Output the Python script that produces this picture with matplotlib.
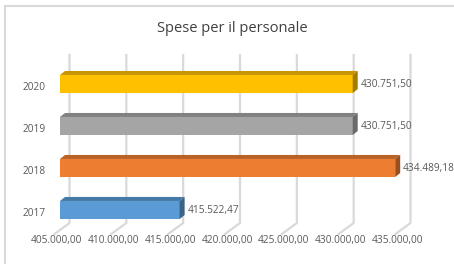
import matplotlib
matplotlib.use("Agg")
import matplotlib.pyplot as plt
from matplotlib.transforms import IdentityTransform
from matplotlib.patches import Polygon
from matplotlib.lines import Line2D
import colorsys
from matplotlib.colors import to_rgb

plt.rcParams['font.family'] = ['Open Sans', 'DejaVu Sans']

# ---- data ----
title = "Spese per il personale"
years = ["2017", "2018", "2019", "2020"]
values = [415522.47, 434489.18, 430751.50, 430751.50]
colors = ["#5B9BD5", "#ED7D31", "#A5A5A5", "#FFC000"]
ticks = [405000, 410000, 415000, 420000, 425000, 430000, 435000]
base = 405000

def it_fmt(v):
    s = f"{v:,.2f}"
    return s.replace(",", "X").replace(".", ",").replace("X", ".")

def shade(c, f):
    r, g, b = to_rgb(c)
    return (r * f, g * f, b * f)

W, H = 454, 264
fig = plt.figure(figsize=(W / 100, H / 100), dpi=100)
ax = fig.add_axes([60 / W, 33 / H, 341 / W, 168 / H])
ax.set_xlim(ticks[0], ticks[-1])
ax.set_ylim(-0.5, 3.5)
ax.axis('off')

ident = IdentityTransform()
txtcol = "#595959"
gridcol = "#d9d9d9"

# back-wall gridlines with floor diagonals
for t in ticks:
    xd = ax.transData.transform((t, 0))[0] + 9.5
    ln = Line2D([xd, xd, xd - 15], [209, 41, 30], transform=ident,
                color=gridcol, lw=1.6, zorder=1, clip_on=False)
    ax.add_line(ln)
    ax.text(xd - 13, 23, it_fmt(t), transform=ident, ha='center', va='center',
            fontsize=7.3, color=txtcol)

ypos = list(range(len(years)))
bh = 0.43
ax.barh(ypos, [v - base for v in values], left=base, height=bh,
        color=colors, zorder=3)

dx, dy = 5, 4
for y, v, c in zip(ypos, values, colors):
    (x0, yb) = ax.transData.transform((base, y - bh / 2))
    (x1, yt) = ax.transData.transform((v, y + bh / 2))
    top = Polygon([(x0, yt), (x1, yt), (x1 + dx, yt + dy), (x0 + dx, yt + dy)],
                  closed=True, transform=ident, facecolor=shade(c, 0.78),
                  edgecolor='none', zorder=3, clip_on=False)
    side = Polygon([(x1, yb), (x1, yt), (x1 + dx, yt + dy), (x1 + dx, yb + dy)],
                   closed=True, transform=ident, facecolor=shade(c, 0.64),
                   edgecolor='none', zorder=3, clip_on=False)
    ax.add_patch(top)
    ax.add_patch(side)
    ax.annotate(it_fmt(v), (v, y), xytext=(8, -1), textcoords='offset pixels',
                ha='left', va='center', fontsize=7.3, color=txtcol)
    ax.annotate(years[y], (base, y), xytext=(-14, -4), textcoords='offset pixels',
                ha='right', va='center', fontsize=7.3, color=txtcol)

# title
fig.text(232.5 / W, 1 - 28 / H, title, ha='center', va='center',
         fontsize=10.5, color="#404040")

# chart border (top and left)
fig.add_artist(Line2D([5 / W, 1], [1 - 6 / H, 1 - 6 / H], transform=fig.transFigure,
                      color=gridcol, lw=1.5))
fig.add_artist(Line2D([5 / W, 5 / W], [0, 1 - 6 / H], transform=fig.transFigure,
                      color=gridcol, lw=1.5))

fig.savefig("out.png", dpi=100)
